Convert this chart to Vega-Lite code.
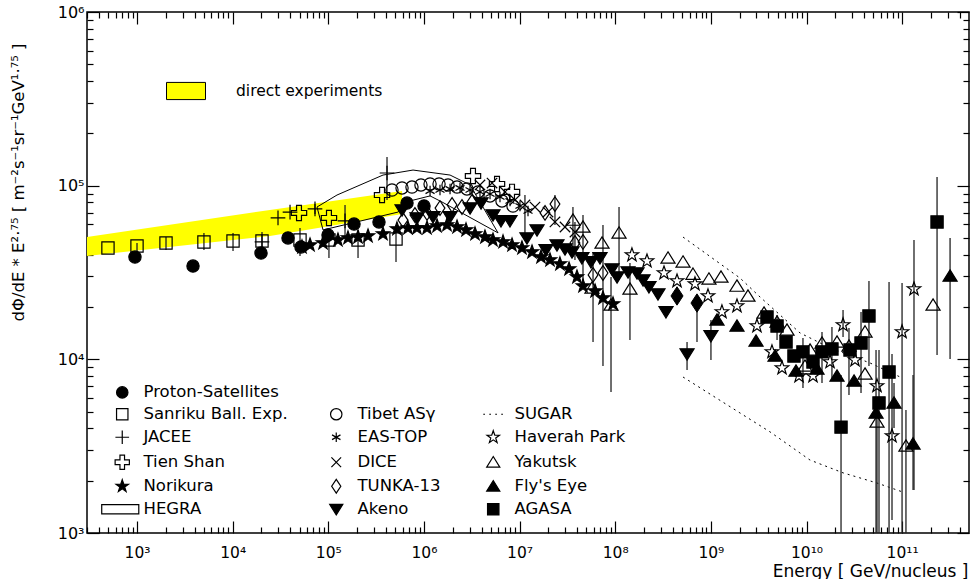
{
  "$schema": "https://vega.github.io/schema/vega-lite/v6.json",
  "width": 882,
  "height": 521,
  "autosize": {"type": "none"},
  "padding": {"left": 87, "top": 12, "right": 2, "bottom": 46},
  "background": "white",
  "config": {
    "view": {"stroke": "black", "strokeWidth": 1.5},
    "font": "DejaVu Sans",
    "axis": {"grid": false, "domain": false, "tickColor": "black", "tickWidth": 1.2, "labelColor": "black", "titleColor": "black", "labelFont": "DejaVu Sans", "titleFont": "DejaVu Sans", "labelFontSize": 16, "titleFontWeight": "normal", "labelOverlap": false, "labelFlush": false}
  },
  "datasets": {
    "band": [
      {"x": 300, "hi": 50580, "lo": 39360},
      {"x": 24550, "hi": 72440, "lo": 51290},
      {"x": 590200, "hi": 93110, "lo": 68710}
    ],
    "hegra": [
      {"i": 1, "x": 76200, "y": 75340},
      {"i": 2, "x": 123300, "y": 88310},
      {"i": 3, "x": 373300, "y": 115100},
      {"i": 4, "x": 769100, "y": 123000},
      {"i": 5, "x": 1875000, "y": 115100},
      {"i": 6, "x": 3034000, "y": 101000},
      {"i": 7, "x": 5957000, "y": 53460},
      {"i": 8, "x": 1545000, "y": 80540},
      {"i": 9, "x": 1159000, "y": 87300},
      {"i": 10, "x": 714500, "y": 81660},
      {"i": 11, "x": 535800, "y": 70470},
      {"i": 12, "x": 88100, "y": 55590},
      {"i": 13, "x": 76200, "y": 75340}
    ],
    "sugar": [
      {"part": "upper", "x": 5.117e8, "y": 50580},
      {"part": "upper", "x": 2.018e9, "y": 29380},
      {"part": "upper", "x": 3.266e9, "y": 22860},
      {"part": "upper", "x": 8.551e9, "y": 14190},
      {"part": "upper", "x": 1.762e10, "y": 11640},
      {"part": "upper", "x": 4.613e10, "y": 9530},
      {"part": "upper", "x": 9.977e10, "y": 7820},
      {"part": "lower", "x": 5.117e8, "y": 7910},
      {"part": "lower", "x": 2.018e9, "y": 4910},
      {"part": "lower", "x": 4.159e9, "y": 3820},
      {"part": "lower", "x": 1.089e10, "y": 2630},
      {"part": "lower", "x": 2.41e10, "y": 2220},
      {"part": "lower", "x": 5.458e10, "y": 1940},
      {"part": "lower", "x": 1.021e11, "y": 1720}
    ],
    "pts": [
      {"e": "Proton-Satellites", "x": 952, "y": 38820},
      {"e": "Proton-Satellites", "x": 3850, "y": 34430},
      {"e": "Proton-Satellites", "x": 19800, "y": 40930},
      {"e": "Proton-Satellites", "x": 37900, "y": 50000},
      {"e": "Proton-Satellites", "x": 51800, "y": 44360},
      {"e": "Proton-Satellites", "x": 99300, "y": 52000},
      {"e": "Proton-Satellites", "x": 185800, "y": 60120},
      {"e": "Proton-Satellites", "x": 338800, "y": 61800},
      {"e": "Proton-Satellites", "x": 665300, "y": 79430},
      {"e": "Proton-Satellites", "x": 1002000, "y": 76380},

      {"e": "Sanriku Ball. Exp.", "x": 497, "y": 43750},
      {"e": "Sanriku Ball. Exp.", "x": 1000, "y": 44980, "lo": 41500, "hi": 46770},
      {"e": "Sanriku Ball. Exp.", "x": 2010, "y": 46770, "lo": 42660, "hi": 50580},
      {"e": "Sanriku Ball. Exp.", "x": 5010, "y": 47420, "lo": 42660, "hi": 53460},
      {"e": "Sanriku Ball. Exp.", "x": 10090, "y": 47970, "lo": 42070, "hi": 53460},
      {"e": "Sanriku Ball. Exp.", "x": 20270, "y": 47970, "lo": 42660, "hi": 54080},
      {"e": "Sanriku Ball. Exp.", "x": 50600, "y": 48640, "lo": 39360, "hi": 57020},
      {"e": "Sanriku Ball. Exp.", "x": 101600, "y": 48640, "lo": 38370, "hi": 57020},
      {"e": "Sanriku Ball. Exp.", "x": 204600, "y": 48640, "lo": 38370, "hi": 55590},
      {"e": "Sanriku Ball. Exp.", "x": 510500, "y": 49320, "lo": 36390, "hi": 55590},

      {"e": "JACEE", "x": 20270, "y": 47420},
      {"e": "JACEE", "x": 29800, "y": 65160},
      {"e": "JACEE", "x": 39800, "y": 70470},
      {"e": "JACEE", "x": 72600, "y": 73450, "lo": 68710, "hi": 78340},
      {"e": "JACEE", "x": 149600, "y": 62660, "lo": 50000, "hi": 77450},
      {"e": "JACEE", "x": 411100, "y": 118300, "lo": 82600, "hi": 146200},

      {"e": "Tien Shan", "x": 49400, "y": 69660},
      {"e": "Tien Shan", "x": 101600, "y": 65160},
      {"e": "Tien Shan", "x": 364800, "y": 88310},
      {"e": "Tien Shan", "x": 3258000, "y": 113700},
      {"e": "Tien Shan", "x": 5808000, "y": 102300},
      {"e": "Tien Shan", "x": 8337000, "y": 92040},

      {"e": "Norikura", "x": 53100, "y": 44360},
      {"e": "Norikura", "x": 64400, "y": 45500},
      {"e": "Norikura", "x": 88100, "y": 46770},
      {"e": "Norikura", "x": 126200, "y": 48640},
      {"e": "Norikura", "x": 160700, "y": 50000},
      {"e": "Norikura", "x": 204600, "y": 50580},
      {"e": "Norikura", "x": 260200, "y": 51290},
      {"e": "Norikura", "x": 373300, "y": 52720},
      {"e": "Norikura", "x": 522400, "y": 56360},
      {"e": "Norikura", "x": 680800, "y": 57020},
      {"e": "Norikura", "x": 845300, "y": 57020},
      {"e": "Norikura", "x": 1077000, "y": 57020},
      {"e": "Norikura", "x": 1371000, "y": 58610},
      {"e": "Norikura", "x": 1742000, "y": 59430},
      {"e": "Norikura", "x": 2218000, "y": 57810},
      {"e": "Norikura", "x": 2754000, "y": 55590},
      {"e": "Norikura", "x": 3420000, "y": 52720},
      {"e": "Norikura", "x": 4345000, "y": 50580},
      {"e": "Norikura", "x": 5272000, "y": 48640},
      {"e": "Norikura", "x": 6714000, "y": 47420},
      {"e": "Norikura", "x": 8337000, "y": 45500},
      {"e": "Norikura", "x": 10590000, "y": 43750},
      {"e": "Norikura", "x": 13490000, "y": 41500},
      {"e": "Norikura", "x": 16750000, "y": 38820},
      {"e": "Norikura", "x": 20800000, "y": 37330},
      {"e": "Norikura", "x": 26420000, "y": 35400},
      {"e": "Norikura", "x": 32890000, "y": 33110},
      {"e": "Norikura", "x": 39810000, "y": 29790},
      {"e": "Norikura", "x": 46030000, "y": 26420},
      {"e": "Norikura", "x": 61520000, "y": 24720},
      {"e": "Norikura", "x": 74470000, "y": 22540},
      {"e": "Norikura", "x": 94840000, "y": 20840},

      {"e": "Tibet ASγ", "x": 463400, "y": 94410},
      {"e": "Tibet ASγ", "x": 590200, "y": 97040},
      {"e": "Tibet ASγ", "x": 749900, "y": 98180},
      {"e": "Tibet ASγ", "x": 931100, "y": 101000},
      {"e": "Tibet ASγ", "x": 1159000, "y": 102300},
      {"e": "Tibet ASγ", "x": 1439000, "y": 102300},
      {"e": "Tibet ASγ", "x": 1786000, "y": 101000},
      {"e": "Tibet ASγ", "x": 2218000, "y": 98180},
      {"e": "Tibet ASγ", "x": 2818000, "y": 95720},
      {"e": "Tibet ASγ", "x": 3673000, "y": 92040},
      {"e": "Tibet ASγ", "x": 4909000, "y": 87300},
      {"e": "Tibet ASγ", "x": 6546000, "y": 81660},
      {"e": "Tibet ASγ", "x": 8531000, "y": 76380},

      {"e": "EAS-TOP", "x": 1159000, "y": 93110},
      {"e": "EAS-TOP", "x": 1472000, "y": 94410},
      {"e": "EAS-TOP", "x": 1875000, "y": 95720},
      {"e": "EAS-TOP", "x": 2382000, "y": 97040},
      {"e": "EAS-TOP", "x": 3034000, "y": 94410},
      {"e": "EAS-TOP", "x": 3855000, "y": 92040},
      {"e": "EAS-TOP", "x": 4909000, "y": 89540},
      {"e": "EAS-TOP", "x": 6237000, "y": 86100},
      {"e": "EAS-TOP", "x": 7943000, "y": 81660},
      {"e": "EAS-TOP", "x": 10090000, "y": 76380},
      {"e": "EAS-TOP", "x": 12250000, "y": 71450},

      {"e": "DICE", "x": 3855000, "y": 101000},
      {"e": "DICE", "x": 5152000, "y": 103500},
      {"e": "DICE", "x": 7047000, "y": 92040},
      {"e": "DICE", "x": 8954000, "y": 82790},
      {"e": "DICE", "x": 11380000, "y": 77450, "lo": 50000, "hi": 88310},
      {"e": "DICE", "x": 14490000, "y": 75340},
      {"e": "DICE", "x": 19820000, "y": 70470},
      {"e": "DICE", "x": 23440000, "y": 61800},
      {"e": "DICE", "x": 29850000, "y": 57810},
      {"e": "DICE", "x": 37930000, "y": 54080},

      {"e": "TUNKA-13", "x": 603900, "y": 63390},
      {"e": "TUNKA-13", "x": 805400, "y": 67760},
      {"e": "TUNKA-13", "x": 1077000, "y": 69660},
      {"e": "TUNKA-13", "x": 1472000, "y": 74300},
      {"e": "TUNKA-13", "x": 1968000, "y": 77450},
      {"e": "TUNKA-13", "x": 2500000, "y": 75340},
      {"e": "TUNKA-13", "x": 3177000, "y": 80540},
      {"e": "TUNKA-13", "x": 18450000, "y": 69660},
      {"e": "TUNKA-13", "x": 23440000, "y": 78340, "lo": 59430, "hi": 88310},
      {"e": "TUNKA-13", "x": 37930000, "y": 46770, "lo": 37330, "hi": 61800},
      {"e": "TUNKA-13", "x": 46030000, "y": 47420},
      {"e": "TUNKA-13", "x": 58610000, "y": 30620, "lo": 12590, "hi": 41500},
      {"e": "TUNKA-13", "x": 74470000, "y": 31410, "lo": 9160, "hi": 59430},

      {"e": "Akeno", "x": 590200, "y": 72440},
      {"e": "Akeno", "x": 845300, "y": 65160},
      {"e": "Akeno", "x": 1245000, "y": 66070},
      {"e": "Akeno", "x": 1875000, "y": 66070},
      {"e": "Akeno", "x": 3034000, "y": 74300},
      {"e": "Akeno", "x": 3954000, "y": 79430},
      {"e": "Akeno", "x": 5272000, "y": 67760},
      {"e": "Akeno", "x": 6397000, "y": 62660},
      {"e": "Akeno", "x": 7943000, "y": 62660},
      {"e": "Akeno", "x": 11940000, "y": 50000},
      {"e": "Akeno", "x": 15210000, "y": 55590},
      {"e": "Akeno", "x": 18880000, "y": 42660},
      {"e": "Akeno", "x": 24600000, "y": 45500},
      {"e": "Akeno", "x": 29850000, "y": 43150},
      {"e": "Akeno", "x": 35320000, "y": 41500},
      {"e": "Akeno", "x": 44870000, "y": 38370},
      {"e": "Akeno", "x": 55850000, "y": 36390},
      {"e": "Akeno", "x": 69340000, "y": 38370},
      {"e": "Akeno", "x": 92470000, "y": 33110},
      {"e": "Akeno", "x": 104500000, "y": 29790},
      {"e": "Akeno", "x": 136100000, "y": 31840},
      {"e": "Akeno", "x": 169000000, "y": 31410},
      {"e": "Akeno", "x": 195400000, "y": 28640},
      {"e": "Akeno", "x": 225400000, "y": 26120},
      {"e": "Akeno", "x": 279900000, "y": 23770},
      {"e": "Akeno", "x": 339600000, "y": 18750},
      {"e": "Akeno", "x": 563600000, "y": 10740, "lo": 8690, "hi": 12590},
      {"e": "Akeno", "x": 1002000000, "y": 13650, "lo": 9910, "hi": 16870},

      {"e": "Akeno2", "x": 442600000, "y": 23170},
      {"e": "Akeno2", "x": 716100000, "y": 21090, "lo": 12590, "hi": 23170},

      {"e": "Haverah Park", "x": 1.496e8, "y": 39900},
      {"e": "Haverah Park", "x": 2.148e8, "y": 36810},
      {"e": "Haverah Park", "x": 3.236e8, "y": 31410},
      {"e": "Haverah Park", "x": 4.426e8, "y": 28250},
      {"e": "Haverah Park", "x": 6.823e8, "y": 27160},
      {"e": "Haverah Park", "x": 9.333e8, "y": 23170},
      {"e": "Haverah Park", "x": 1.306e9, "y": 18750},
      {"e": "Haverah Park", "x": 1.875e9, "y": 20280},
      {"e": "Haverah Park", "x": 3.034e9, "y": 15560},
      {"e": "Haverah Park", "x": 4.355e9, "y": 11040},
      {"e": "Haverah Park", "x": 5.546e9, "y": 8910},
      {"e": "Haverah Park", "x": 8.356e9, "y": 8020},
      {"e": "Haverah Park", "x": 1.169e10, "y": 8020},
      {"e": "Haverah Park", "x": 1.762e10, "y": 9660},
      {"e": "Haverah Park", "x": 2.41e10, "y": 15780, "lo": 13460, "hi": 19230},
      {"e": "Haverah Park", "x": 3.214e10, "y": 9910},
      {"e": "Haverah Park", "x": 5.458e10, "y": 7030},
      {"e": "Haverah Park", "x": 7.834e10, "y": 3620, "lo": 1190, "hi": 10740},
      {"e": "Haverah Park", "x": 9.977e10, "y": 14390, "lo": 1000, "hi": 27540},
      {"e": "Haverah Park", "x": 1.33e11, "y": 25410, "lo": 1770, "hi": 48640},

      {"e": "Yakutsk", "x": 3.614e7, "y": 63390, "lo": 38820, "hi": 75340},
      {"e": "Yakutsk", "x": 4.603e7, "y": 57810, "lo": 28640, "hi": 67760},
      {"e": "Yakutsk", "x": 5.715e7, "y": 25760},
      {"e": "Yakutsk", "x": 7.278e7, "y": 46770},
      {"e": "Yakutsk", "x": 9.036e7, "y": 20560, "lo": 6490, "hi": 29790},
      {"e": "Yakutsk", "x": 1.096e8, "y": 53460, "lo": 28640, "hi": 75340},
      {"e": "Yakutsk", "x": 1.426e8, "y": 25410, "lo": 12940, "hi": 35890},
      {"e": "Yakutsk", "x": 3.565e8, "y": 38370},
      {"e": "Yakutsk", "x": 5.117e8, "y": 36390},
      {"e": "Yakutsk", "x": 6.501e8, "y": 30970},
      {"e": "Yakutsk", "x": 9.55e8, "y": 29040},
      {"e": "Yakutsk", "x": 1.276e9, "y": 29790},
      {"e": "Yakutsk", "x": 1.875e9, "y": 26420},
      {"e": "Yakutsk", "x": 2.443e9, "y": 23170},
      {"e": "Yakutsk", "x": 3.597e9, "y": 18490},
      {"e": "Yakutsk", "x": 4.92e9, "y": 16410},
      {"e": "Yakutsk", "x": 6.252e9, "y": 14760},
      {"e": "Yakutsk", "x": 9.638e9, "y": 9160},
      {"e": "Yakutsk", "x": 1.089e10, "y": 11320},
      {"e": "Yakutsk", "x": 1.452e10, "y": 12420},
      {"e": "Yakutsk", "x": 2.084e10, "y": 12590},
      {"e": "Yakutsk", "x": 2.78e10, "y": 11940, "lo": 6240, "hi": 15170},
      {"e": "Yakutsk", "x": 4.093e10, "y": 14390},
      {"e": "Yakutsk", "x": 4.093e10, "y": 8240},
      {"e": "Yakutsk", "x": 5.458e10, "y": 4360, "lo": 1000, "hi": 5830},
      {"e": "Yakutsk", "x": 1.096e11, "y": 3170, "lo": 1000, "hi": 5100},
      {"e": "Yakutsk", "x": 2.104e11, "y": 20560},

      {"e": "Fly's Eye", "x": 1.159e9, "y": 16870},
      {"e": "Fly's Eye", "x": 1.875e9, "y": 15560},
      {"e": "Fly's Eye", "x": 2.965e9, "y": 12760},
      {"e": "Fly's Eye", "x": 4.688e9, "y": 10450},
      {"e": "Fly's Eye", "x": 7.762e9, "y": 8570},
      {"e": "Fly's Eye", "x": 1.288e10, "y": 8790},
      {"e": "Fly's Eye", "x": 2.084e10, "y": 8020},
      {"e": "Fly's Eye", "x": 3.141e10, "y": 7500},
      {"e": "Fly's Eye", "x": 5.333e10, "y": 4910, "lo": 1000, "hi": 11320},
      {"e": "Fly's Eye", "x": 8.222e10, "y": 5610, "lo": 4030, "hi": 7310},
      {"e": "Fly's Eye", "x": 1.3e11, "y": 3260, "lo": 1770, "hi": 8130},
      {"e": "Fly's Eye", "x": 3.17e11, "y": 30200, "lo": 10050, "hi": 50000},

      {"e": "AGASA", "x": 3.864e9, "y": 17540},
      {"e": "AGASA", "x": 4.92e9, "y": 15560, "lo": 12940, "hi": 17990},
      {"e": "AGASA", "x": 6.109e9, "y": 12590},
      {"e": "AGASA", "x": 7.396e9, "y": 10450},
      {"e": "AGASA", "x": 9.183e9, "y": 11040, "lo": 6840, "hi": 13270},
      {"e": "AGASA", "x": 1.169e10, "y": 9660},
      {"e": "AGASA", "x": 1.452e10, "y": 11040, "lo": 7310, "hi": 14390},
      {"e": "AGASA", "x": 1.845e10, "y": 11480, "lo": 7600, "hi": 15350},
      {"e": "AGASA", "x": 2.296e10, "y": 4070, "lo": 1000, "hi": 8130},
      {"e": "AGASA", "x": 2.851e10, "y": 11320},
      {"e": "AGASA", "x": 3.715e10, "y": 12420, "lo": 6400, "hi": 18750},
      {"e": "AGASA", "x": 4.498e10, "y": 17780, "lo": 9160, "hi": 28250},
      {"e": "AGASA", "x": 5.728e10, "y": 5610, "lo": 1000, "hi": 11320},
      {"e": "AGASA", "x": 7.295e10, "y": 8450, "lo": 1000, "hi": 27860},
      {"e": "AGASA", "x": 2.317e11, "y": 61800, "lo": 10590, "hi": 112200}
    ]
  },
  "layer": [
    {
      "data": {"name": "band"},
      "mark": {"type": "area", "clip": true, "opacity": 1},
      "encoding": {
        "x": {
          "field": "x", "type": "quantitative",
          "scale": {"type": "log", "domain": [300, 5e11], "nice": false},
          "axis": {
            "orient": "bottom", "offset": -12, "tickSize": 12,
            "values": [1e3,1e4,1e5,1e6,1e7,1e8,1e9,1e10,1e11],
            "labelExpr": "'10' + ['⁰','¹','²','³','⁴','⁵','⁶','⁷','⁸','⁹','¹⁰','¹¹','¹²'][round(log(datum.value)/LN10)]",
            "labelPadding": 12,
            "labelFontSize": 15.5,
            "title": "Energy [ GeV/nucleus ]",
            "titleFontSize": 17,
            "titleX": 881, "titleY": 50, "titleAlign": "right", "titleBaseline": "middle"
          }
        },
        "y": {
          "field": "hi", "type": "quantitative",
          "scale": {"type": "log", "domain": [1000, 1e6], "nice": false},
          "axis": {
            "orient": "left", "offset": -12, "tickSize": 12,
            "values": [1e3,1e4,1e5,1e6],
            "labelExpr": "'10' + ['⁰','¹','²','³','⁴','⁵','⁶','⁷','⁸','⁹','¹⁰','¹¹','¹²'][round(log(datum.value)/LN10)]",
            "labelPadding": 3,
            "title": "dΦ/dE * E²·⁷⁵ [ m⁻²s⁻¹sr⁻¹GeV¹·⁷⁵ ]",
            "titleFontSize": 16.5,
            "titleAngle": -90,
            "titleX": -81, "titleY": 170, "titleAlign": "center", "titleBaseline": "middle"
          }
        },
        "y2": {"field": "lo"},
        "color": {
          "datum": "direct experiments",
          "scale": {"range": ["#ffff00"]},
          "legend": {
            "title": null, "orient": "none", "legendX": 79, "legendY": 59, "padding": 0,
            "symbolType": "M-1,-0.44H1V0.44H-1Z", "symbolSize": 1521,
            "symbolStrokeColor": "black", "symbolStrokeWidth": 1, "symbolOpacity": 1,
            "labelFontSize": 15.5, "labelFont": "DejaVu Sans", "labelColor": "black", "labelOffset": 30,
            "encode": {"symbols": {"update": {"stroke": {"value": "black"}, "strokeWidth": {"value": 1}}}}
          }
        }
      }
    },
    {
      "data": {"name": "hegra"},
      "mark": {"type": "line", "color": "black", "strokeWidth": 1},
      "encoding": {
        "x": {
          "field": "x", "type": "quantitative",
          "axis": {
            "orient": "bottom", "offset": -6, "tickSize": 6, "labels": false, "title": null,
            "values": [300,400,500,600,700,800,900,2000,3000,4000,5000,6000,7000,8000,9000,2e4,3e4,4e4,5e4,6e4,7e4,8e4,9e4,2e5,3e5,4e5,5e5,6e5,7e5,8e5,9e5,2e6,3e6,4e6,5e6,6e6,7e6,8e6,9e6,2e7,3e7,4e7,5e7,6e7,7e7,8e7,9e7,2e8,3e8,4e8,5e8,6e8,7e8,8e8,9e8,2e9,3e9,4e9,5e9,6e9,7e9,8e9,9e9,2e10,3e10,4e10,5e10,6e10,7e10,8e10,9e10,2e11,3e11,4e11]
          }
        },
        "y": {
          "field": "y", "type": "quantitative",
          "axis": {
            "orient": "left", "offset": -6, "tickSize": 6, "labels": false, "title": null,
            "values": [2000,3000,4000,5000,6000,7000,8000,9000,2e4,3e4,4e4,5e4,6e4,7e4,8e4,9e4,2e5,3e5,4e5,5e5,6e5,7e5,8e5,9e5]
          }
        },
        "order": {"field": "i", "type": "quantitative"}
      }
    },
    {
      "data": {"name": "sugar"},
      "mark": {"type": "line", "color": "black", "strokeWidth": 1, "strokeDash": [2, 4]},
      "encoding": {
        "x": {
          "field": "x", "type": "quantitative",
          "axis": {
            "orient": "top", "offset": -12, "tickSize": 12, "labels": false, "title": null,
            "values": [1e3,1e4,1e5,1e6,1e7,1e8,1e9,1e10,1e11]
          }
        },
        "y": {
          "field": "y", "type": "quantitative",
          "axis": {
            "orient": "right", "offset": -12, "tickSize": 12, "labels": false, "title": null,
            "values": [1e3,1e4,1e5,1e6]
          }
        },
        "detail": {"field": "part", "type": "nominal"}
      }
    },
    {
      "data": {"name": "pts"},
      "transform": [{"filter": "isValid(datum.lo)"}],
      "mark": {"type": "rule", "color": "#222222", "strokeWidth": 1.3, "clip": true},
      "encoding": {
        "x": {
          "field": "x", "type": "quantitative",
          "axis": {
            "orient": "top", "offset": -6, "tickSize": 6, "labels": false, "title": null,
            "values": [300,400,500,600,700,800,900,2000,3000,4000,5000,6000,7000,8000,9000,2e4,3e4,4e4,5e4,6e4,7e4,8e4,9e4,2e5,3e5,4e5,5e5,6e5,7e5,8e5,9e5,2e6,3e6,4e6,5e6,6e6,7e6,8e6,9e6,2e7,3e7,4e7,5e7,6e7,7e7,8e7,9e7,2e8,3e8,4e8,5e8,6e8,7e8,8e8,9e8,2e9,3e9,4e9,5e9,6e9,7e9,8e9,9e9,2e10,3e10,4e10,5e10,6e10,7e10,8e10,9e10,2e11,3e11,4e11]
          }
        },
        "y": {
          "field": "lo", "type": "quantitative",
          "axis": {
            "orient": "right", "offset": -6, "tickSize": 6, "labels": false, "title": null,
            "values": [2000,3000,4000,5000,6000,7000,8000,9000,2e4,3e4,4e4,5e4,6e4,7e4,8e4,9e4,2e5,3e5,4e5,5e5,6e5,7e5,8e5,9e5]
          }
        },
        "y2": {"field": "hi"}
      }
    },
    {
      "data": {"name": "pts"},
      "transform": [{"filter": "datum.e !== 'Akeno2'"}],
      "mark": {"type": "point", "stroke": "black", "strokeWidth": 1.2, "size": 150, "opacity": 1, "fillOpacity": 1},
      "encoding": {
        "x": {"field": "x", "type": "quantitative", "axis": null},
        "y": {"field": "y", "type": "quantitative", "axis": null},
        "shape": {
          "field": "e", "type": "nominal",
          "scale": {
            "domain": ["Proton-Satellites", "Sanriku Ball. Exp.", "JACEE", "Tien Shan", "Norikura", "HEGRA", " ", "Tibet ASγ", "EAS-TOP", "DICE", "TUNKA-13", "Akeno", "  ", "SUGAR", "Haverah Park", "Yakutsk", "Fly's Eye", "AGASA"],
            "range": ["circle", "square", "M-1.2,0H1.2M0,-1.2V1.2", "M-0.4,-1.25H0.4V-0.4H1.25V0.4H0.4V1.25H-0.4V0.4H-1.25V-0.4H-0.4Z", "M0,-1.15L0.27,-0.372L1.094,-0.355L0.437,0.142L0.676,0.93L0,0.46L-0.676,0.93L-0.437,0.142L-1.094,-0.355L-0.27,-0.372Z", "M-3.6,-0.8H2.9V0.8H-3.6Z", "M0,0L0,0", "circle", "M0,-0.85V0.85M-0.74,-0.42L0.74,0.42M-0.74,0.42L0.74,-0.42", "M-0.85,-0.85L0.85,0.85M-0.85,0.85L0.85,-0.85", "M0,-1.2L0.8,0L0,1.2L-0.8,0Z", "M0,1L1.15,-0.85H-1.15Z", "M0,0L0,0", "M-1.75,0H-1.45M-0.7,0H-0.4M0.35,0H0.65M1.4,0H1.7", "M0,-1.15L0.27,-0.372L1.094,-0.355L0.437,0.142L0.676,0.93L0,0.46L-0.676,0.93L-0.437,0.142L-1.094,-0.355L-0.27,-0.372Z", "M0,-1L1.15,0.85H-1.15Z", "M0,-1L1.15,0.85H-1.15Z", "square"]
          },
          "legend": {
            "title": null, "orient": "none", "legendX": 27, "legendY": 372, "padding": 0, "direction": "vertical",
            "columns": 3, "columnPadding": 39, "rowPadding": 5, "gridAlign": "each",
            "labelFontSize": 16.5, "labelFont": "DejaVu Sans", "labelColor": "black", "labelOffset": 13,
            "symbolSize": 130, "symbolStrokeColor": "black", "symbolStrokeWidth": 1.2, "symbolOpacity": 1,
            "encode": {"symbols": {"update": {"stroke": {"value": "black"}, "strokeWidth": {"value": 1.2}}}}
          }
        },
        "fill": {
          "field": "e", "type": "nominal",
          "scale": {
            "domain": ["Proton-Satellites", "Sanriku Ball. Exp.", "JACEE", "Tien Shan", "Norikura", "HEGRA", " ", "Tibet ASγ", "EAS-TOP", "DICE", "TUNKA-13", "Akeno", "  ", "SUGAR", "Haverah Park", "Yakutsk", "Fly's Eye", "AGASA"],
            "range": ["black", "transparent", "transparent", "transparent", "black", "transparent", "transparent", "transparent", "transparent", "transparent", "transparent", "black", "transparent", "transparent", "transparent", "transparent", "black", "black"]
          },
          "legend": {
            "title": null, "orient": "none", "legendX": 27, "legendY": 372, "padding": 0, "direction": "vertical",
            "columns": 3, "columnPadding": 39, "rowPadding": 5, "gridAlign": "each",
            "labelFontSize": 16.5, "labelFont": "DejaVu Sans", "labelColor": "black", "labelOffset": 13,
            "symbolSize": 130, "symbolStrokeColor": "black", "symbolStrokeWidth": 1.2, "symbolOpacity": 1,
            "encode": {"symbols": {"update": {"stroke": {"value": "black"}, "strokeWidth": {"value": 1.2}}}}
          }
        }
      }
    },
    {
      "data": {"name": "pts"},
      "transform": [{"filter": "datum.e === 'Akeno2'"}],
      "mark": {"type": "point", "shape": "M0,-1.3L0.85,0L0,1.3L-0.85,0Z", "fill": "black", "stroke": "black", "strokeWidth": 1, "size": 200, "opacity": 1, "filled": true},
      "encoding": {
        "x": {"field": "x", "type": "quantitative", "axis": null},
        "y": {"field": "y", "type": "quantitative", "axis": null}
      }
    }
  ],
  "resolve": {"axis": {"x": "independent", "y": "independent"}}
}
